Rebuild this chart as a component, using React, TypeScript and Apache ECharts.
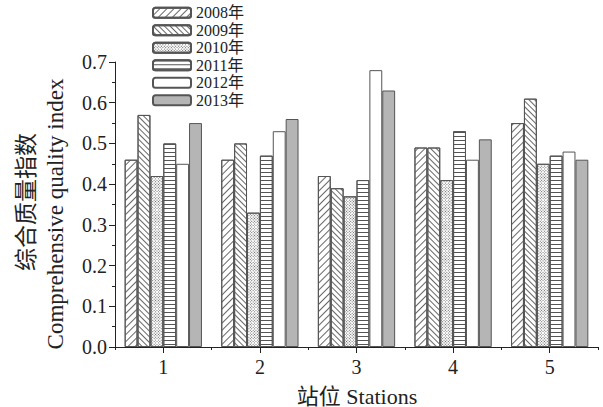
import React, { useEffect, useRef } from "react";
import * as echarts from "echarts";

const stations = ["1", "2", "3", "4", "5"];
const years = ["2008年", "2009年", "2010年", "2011年", "2012年", "2013年"];
const v2008 = [0.46, 0.46, 0.42, 0.49, 0.55];
const v2009 = [0.57, 0.50, 0.39, 0.49, 0.61];
const v2010 = [0.42, 0.33, 0.37, 0.41, 0.45];
const v2011 = [0.50, 0.47, 0.41, 0.53, 0.47];
const v2012 = [0.45, 0.53, 0.68, 0.46, 0.48];
const v2013 = [0.55, 0.56, 0.63, 0.51, 0.46];
const seriesValues = [v2008, v2009, v2010, v2011, v2012, v2013];
const yTicks = [0, 0.1, 0.2, 0.3, 0.4, 0.5, 0.6, 0.7];

const SERIF = "'Liberation Serif', 'Times New Roman', 'Noto Sans CJK SC', serif";
const LINE = "#555";

const styles: any[] = [
  { color: "#fff", decal: { symbol: "rect", symbolSize: 1, dashArrayX: [1, 0], dashArrayY: [1, 4], rotation: -Math.PI / 4, color: "#666", backgroundColor: "#fff" } },
  { color: "#fff", decal: { symbol: "rect", symbolSize: 1, dashArrayX: [1, 0], dashArrayY: [1, 3], rotation: Math.PI / 4, color: "#666", backgroundColor: "#fff" } },
  { color: "#fff", decal: { symbol: "rect", symbolSize: 1, dashArrayX: [1, 1], dashArrayY: [1, 1], rotation: Math.PI / 4, color: "#666", backgroundColor: "#fff" } },
  { color: "#fff", decal: { symbol: "rect", symbolSize: 1, dashArrayX: [1, 0], dashArrayY: [1, 2.3], rotation: 0, color: "#555", backgroundColor: "#fff" } },
  { color: "#fff" },
  { color: "#b5b5b5" },
];

export default function App() {
  const ref = useRef<HTMLDivElement>(null);
  useEffect(() => {
    const chart = echarts.init(ref.current!, null, { renderer: "svg" });
    chart.setOption({
      animation: false,
      backgroundColor: "#fff",
      grid: { left: 115, right: 5, top: 62, bottom: 60 },
      legend: {
        orient: "vertical",
        left: 152,
        top: 4,
        itemWidth: 38,
        itemHeight: 10,
        itemGap: 0,
        padding: 0,
        data: years,
        textStyle: { fontFamily: SERIF, fontSize: 16, color: "#222", lineHeight: 17.5 },
      },
      xAxis: [
        {
          type: "category",
          data: stations,
          axisLine: { lineStyle: { color: "#222", width: 1 } },
          axisTick: { show: true, alignWithLabel: true, length: 6, lineStyle: { color: "#222" } },
          axisLabel: { fontFamily: SERIF, fontSize: 20, color: "#222", margin: 10 },
        },
        {
          type: "category",
          data: stations,
          position: "bottom",
          axisLine: { show: false },
          axisTick: { show: true, length: 3, lineStyle: { color: "#222" } },
          axisLabel: { show: false },
        },
      ],
      yAxis: {
        type: "value",
        min: 0,
        max: 0.7,
        interval: 0.1,
        axisLine: { show: true, lineStyle: { color: "#222", width: 1 } },
        axisTick: { show: true, length: 6, lineStyle: { color: "#222" } },
        minorTick: { show: true, splitNumber: 2, length: 3, lineStyle: { color: "#222" } },
        splitLine: { show: false },
        axisLabel: {
          fontFamily: SERIF,
          fontSize: 20,
          color: "#222",
          margin: 8,
          formatter: (v: number) => {
            const t = yTicks.find((x) => Math.abs(x - v) < 1e-6);
            return (t ?? v).toFixed(1);
          },
        },
      },
      series: years.map((name, i) => ({
        name,
        type: "bar",
        xAxisIndex: 0,
        data: seriesValues[i],
        barGap: "0%",
        barCategoryGap: "20%",
        itemStyle: { ...styles[i], borderColor: LINE, borderWidth: 1 },
      })),
      graphic: [
        {
          type: "text",
          x: 26,
          y: 202,
          rotation: Math.PI / 2,
          style: { text: "综合质量指数", fontFamily: SERIF, fontSize: 23, fill: "#222", align: "center", verticalAlign: "middle" },
        },
        {
          type: "text",
          x: 55,
          y: 214,
          rotation: Math.PI / 2,
          style: { text: "Comprehensive quality index", fontFamily: SERIF, fontSize: 23, fill: "#222", align: "center", verticalAlign: "middle" },
        },
        {
          type: "text",
          x: 357,
          y: 396,
          style: { text: "站位 Stations", fontFamily: SERIF, fontSize: 22, fill: "#222", align: "center", verticalAlign: "middle" },
        },
      ],
    });
    return () => chart.dispose();
  }, []);
  return <div ref={ref} style={{ width: 603, height: 407, position: "absolute", left: 0, top: 0 }} />;
}
